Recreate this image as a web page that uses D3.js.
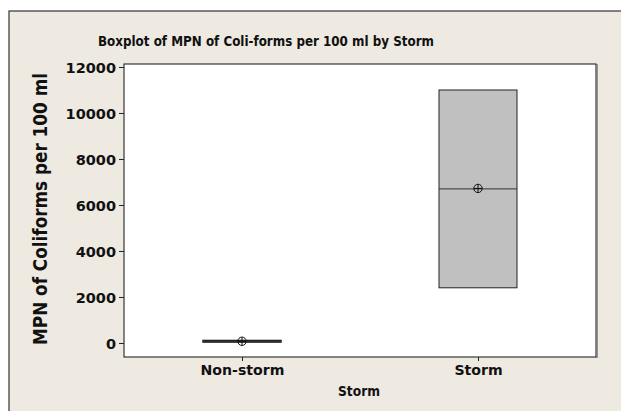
<!DOCTYPE html>
<html><head><meta charset="utf-8">
<script src="https://cdn.jsdelivr.net/npm/d3@7"></script>
<style>html,body{margin:0;padding:0;background:#fff;}svg{display:block;}</style>
</head><body>
<script>
const categories = ["Non-storm", "Storm"];
const q1Values = [40, 2400];
const medianValues = [70, 6700];
const q3Values = [110, 11000];
const meanValues = [75, 6720];
const yTickValues = [0, 2000, 4000, 6000, 8000, 10000, 12000];
const titleText = "Boxplot of MPN of Coli-forms per 100 ml by Storm";
const yTitleText = "MPN of Coliforms per 100 ml";
const xTitleText = "Storm";

const W = 621, H = 411;
const plot = {l: 124, t: 64, r: 596, b: 357};
const FONT = "'DejaVu Sans Condensed', 'DejaVu Sans', Verdana, sans-serif";
const FONT_WIDE = "'DejaVu Sans', Verdana, sans-serif";

const svg = d3.select("body").append("svg").attr("width", W).attr("height", H);
svg.append("rect").attr("width", W).attr("height", H).attr("fill", "#fff");
svg.append("rect").attr("x", 9).attr("y", 11).attr("width", W).attr("height", H)
  .attr("fill", "#EEEAE1").attr("stroke", "#333").attr("stroke-width", 1.2);

const x = d3.scalePoint().domain(categories).range([plot.l, plot.r]).padding(0.5);
const y = d3.scaleLinear().domain([-609, 12130]).range([plot.b, plot.t]);

svg.append("rect").attr("x", plot.l).attr("y", plot.t)
  .attr("width", plot.r - plot.l).attr("height", plot.b - plot.t)
  .attr("fill", "#fff").attr("stroke", "#111").attr("stroke-width", 1);
svg.append("line").attr("x1", plot.r + 1).attr("x2", plot.r + 1)
  .attr("y1", plot.t).attr("y2", plot.b + 1).attr("stroke", "#777").attr("stroke-width", 1.5);

function fitText(sel, target) {
  const w = sel.node().getComputedTextLength();
  const fs = parseFloat(sel.attr("font-size"));
  sel.attr("font-size", fs * target / w);
}

// Y axis
const yAxis = d3.axisLeft(y).tickValues(yTickValues).tickSize(5).tickPadding(3).tickFormat(d3.format("d"));
const gy = svg.append("g").attr("transform", `translate(${plot.l},0)`).call(yAxis);
gy.select(".domain").remove();
gy.selectAll("line").attr("stroke", "#222");
gy.selectAll("text").attr("font-family", FONT_WIDE).attr("font-weight", "bold")
  .attr("font-size", 14.5).attr("fill", "#111").attr("dy", "0.35em");

// X axis
const xAxis = d3.axisBottom(x).tickSize(4).tickPadding(4);
const gx = svg.append("g").attr("transform", `translate(0,${plot.b})`).call(xAxis);
gx.select(".domain").remove();
gx.selectAll("line").attr("stroke", "#222");
gx.selectAll("text").attr("font-family", FONT_WIDE).attr("font-weight", "bold")
  .attr("font-size", 14.5).attr("fill", "#111");
const nsLabel = gx.selectAll("text").filter(d => d === categories[0]);
const w0 = nsLabel.node().getComputedTextLength();
gx.selectAll("text").attr("font-size", 14.5 * 84 / w0);

// Boxes
const boxW = 78;
const data = categories.map((c, i) => ({c, q1: q1Values[i], med: medianValues[i], q3: q3Values[i], mean: meanValues[i]}));
const g = svg.append("g");
g.selectAll("rect.box").data(data).join("rect").attr("class", "box")
  .attr("x", d => x(d.c) - boxW / 2).attr("width", boxW)
  .attr("y", d => y(d.q3)).attr("height", d => y(d.q1) - y(d.q3))
  .attr("fill", d => (y(d.q1) - y(d.q3)) < 6 ? "#111" : "#C0C0C0")
  .attr("stroke", "#222").attr("stroke-width", d => (y(d.q1) - y(d.q3)) < 6 ? 1.5 : 1);
g.selectAll("line.med").data(data).join("line").attr("class", "med")
  .attr("x1", d => x(d.c) - boxW / 2).attr("x2", d => x(d.c) + boxW / 2)
  .attr("y1", d => y(d.med)).attr("y2", d => y(d.med))
  .attr("stroke", "#333").attr("stroke-width", 1);
const mg = g.selectAll("g.mean").data(data).join("g").attr("class", "mean")
  .attr("transform", d => `translate(${x(d.c)},${y(d.mean)})`);
mg.append("circle").attr("r", 4.2).attr("fill", "none").attr("stroke", "#111").attr("stroke-width", 1);
mg.append("line").attr("x1", -4.2).attr("x2", 4.2).attr("stroke", "#111").attr("stroke-width", 1);
mg.append("line").attr("y1", -4.2).attr("y2", 4.2).attr("stroke", "#111").attr("stroke-width", 1);

// Titles
const t = svg.append("text").attr("x", 266).attr("y", 46).attr("text-anchor", "middle")
  .attr("font-family", FONT).attr("font-weight", "bold").attr("font-size", 13).attr("fill", "#111")
  .text(titleText);
fitText(t, 336);
const yt = svg.append("text").attr("transform", "translate(47,209) rotate(-90)").attr("text-anchor", "middle")
  .attr("font-family", FONT).attr("font-weight", "bold").attr("font-size", 16).attr("fill", "#111")
  .text(yTitleText);
fitText(yt, 272);
const xt = svg.append("text").attr("x", 359).attr("y", 396).attr("text-anchor", "middle")
  .attr("font-family", FONT).attr("font-weight", "bold").attr("font-size", 11).attr("fill", "#111")
  .text(xTitleText);
fitText(xt, 42);
</script>
</body></html>
